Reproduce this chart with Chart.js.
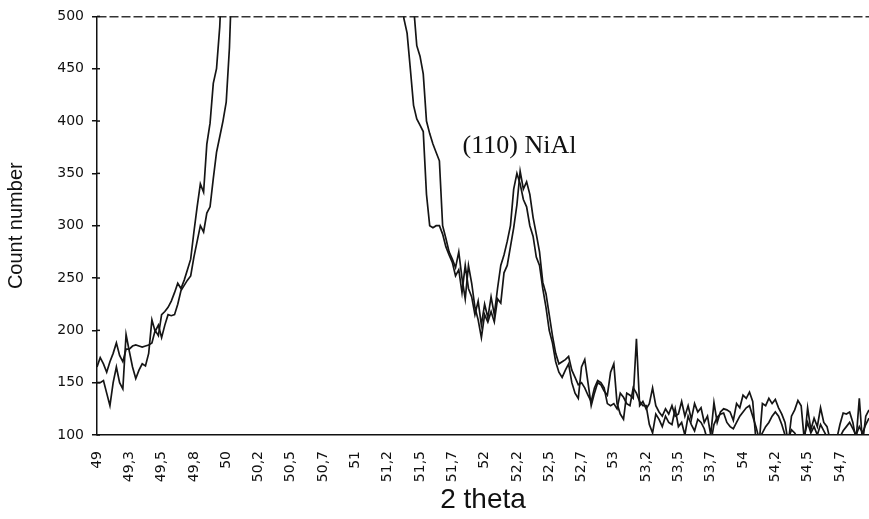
<!DOCTYPE html>
<html>
<head>
<meta charset="utf-8">
<script src="https://cdn.jsdelivr.net/npm/chart.js@4.4.1/dist/chart.umd.min.js"></script>
<style>
  html, body { margin: 0; padding: 0; background: #fff; }
  #wrap { width: 869px; height: 519px; }
</style>
</head>
<body>
<div id="wrap"><canvas id="xrdChart" width="869" height="519"></canvas></div>
<script>
// scan sampling: first angle and step (degrees 2 theta)
const thetaStart = 49;
const thetaStep = 0.025;

// x labels as printed, one every 10 steps
const tickValues = [49, 49.25, 49.5, 49.75, 50, 50.25, 50.5, 50.75, 51, 51.25, 51.5, 51.75,
  52, 52.25, 52.5, 52.75, 53, 53.25, 53.5, 53.75, 54, 54.25, 54.5, 54.75];
const tickLabels = ['49', '49,3', '49,5', '49,8', '50', '50,2', '50,5', '50,7', '51', '51,2', '51,5', '51,7',
  '52', '52,2', '52,5', '52,7', '53', '53,2', '53,5', '53,7', '54', '54,2', '54,5', '54,7'];

// counts, first scan (values above 500 are off the chart)
const countsA = [
  165, 174, 168, 160, 170, 178, 188, 176, 170, 182,
  182, 185, 186, 185, 184, 185, 186, 188, 200, 195,
  215, 218, 222, 228, 236, 245, 240, 248, 258, 268,
  294, 318, 340, 332, 378, 398, 436, 450, 490, 560,
  640, 740, 860, 990, 1130, 1280, 1440, 1600, 1760, 1910,
  2050, 2180, 2290, 2380, 2450, 2500, 2530, 2540, 2530, 2500,
  2450, 2380, 2300, 2200, 2090, 1970, 1850, 1720, 1600, 1480,
  1370, 1260, 1160, 1070, 990, 920, 860, 810, 770, 740,
  900, 880, 860, 840, 820, 800, 780, 760, 740, 720,
  700, 680, 650, 620, 580, 498, 484, 450, 415, 402,
  396, 390, 330, 300, 298, 300, 300, 292, 280, 272,
  265, 252, 258, 236, 262, 240, 232, 215, 228, 205,
  225, 212, 232, 215, 240, 262, 272, 285, 300, 335,
  350, 340, 325, 318, 300, 290, 270, 262, 240, 222,
  200, 188, 170, 160, 155, 162, 168, 150, 140, 135,
  165, 172, 150, 128, 140, 150, 148, 142, 138, 160,
  168, 130, 120, 115, 140, 138, 135, 192, 128, 132,
  125, 130, 145, 128, 122, 118, 125, 120, 128, 118,
  120, 132, 118, 128, 115, 130, 122, 126, 112, 118,
  100, 131, 112, 122, 125, 124, 122, 114, 130, 126,
  138, 135, 141, 132, 95, 92, 130, 128, 135, 130,
  134, 126, 120, 112, 92, 118, 124, 133, 128, 94,
  126, 105, 116, 108, 126, 112, 108, 95, 92, 96,
  110, 121, 120, 122, 112, 95, 135, 92, 118, 124
];

// counts, second scan
const countsB = [
  150, 150, 152, 140, 128, 150, 165, 150, 144, 196,
  180, 165, 154, 162, 168, 166, 178, 210, 199, 205,
  193, 205, 215, 214, 215, 225, 238, 243, 248, 252,
  270, 285, 300, 294, 312, 318, 345, 370, 385, 400,
  418, 470, 560, 650, 760, 880, 1010, 1150, 1300, 1450,
  1600, 1740, 1870, 1990, 2090, 2170, 2230, 2270, 2290, 2290,
  2270, 2230, 2170, 2090, 2000, 1900, 1790, 1680, 1570, 1460,
  1360, 1260, 1170, 1090, 1020, 960, 910, 870, 840, 810,
  790, 770, 750, 730, 715, 700, 690, 680, 670, 660,
  650, 640, 630, 620, 610, 600, 580, 550, 510, 472,
  462, 445, 400, 388, 378, 370, 362, 300, 288, 275,
  268, 260, 275, 250, 230, 262, 245, 222, 210, 193,
  215, 208, 218, 208, 230, 226, 255, 262, 280, 298,
  320, 352, 335, 342, 330, 308, 292, 275, 246, 235,
  215, 195, 178, 168, 170, 172, 175, 162, 155, 148,
  150, 145, 138, 132, 145, 152, 150, 145, 130, 128,
  130, 125, 140, 136, 130, 128, 145, 140, 132, 128,
  128, 110, 102, 120, 115, 108, 118, 112, 110, 125,
  108, 112, 100, 118, 110, 104, 115, 112, 106, 95,
  92, 110, 117, 120, 121, 112, 108, 106, 112, 118,
  122, 126, 128, 118, 108, 96, 102, 108, 112, 118,
  122, 118, 110, 100, 96, 105, 102, 96, 98, 100,
  112, 102, 108, 100, 110, 104, 98, 96, 100, 98,
  98, 104, 108, 112, 106, 100, 108, 102, 110, 116
];

const peakLabel = '(110) NiAl';

function toPoints(counts) {
  return counts.map((c, i) => ({ x: thetaStart + i * thetaStep, y: c }));
}

// peak label + the inner half of the y tick marks
const peakText = {
  id: 'peakText',
  afterDraw(chart) {
    const { ctx, chartArea: { left }, scales: { x, y } } = chart;
    ctx.save();
    ctx.strokeStyle = '#111';
    ctx.lineWidth = 1.5;
    y.ticks.forEach(t => {
      const py = y.getPixelForValue(t.value);
      ctx.beginPath();
      ctx.moveTo(left, py);
      ctx.lineTo(left + 3, py);
      ctx.stroke();
    });
    ctx.font = '26px "Liberation Serif", "Times New Roman", serif';
    ctx.fillStyle = '#111';
    ctx.textAlign = 'center';
    ctx.fillText(peakLabel, x.getPixelForValue(52.27), y.getPixelForValue(369));
    ctx.restore();
  }
};

const tickFont = { family: '"DejaVu Sans", sans-serif', size: 14 };

new Chart(document.getElementById('xrdChart'), {
  type: 'line',
  data: {
    datasets: [
      { data: toPoints(countsA), borderColor: '#151515', borderWidth: 1.7, pointRadius: 0, tension: 0 },
      { data: toPoints(countsB), borderColor: '#151515', borderWidth: 1.7, pointRadius: 0, tension: 0 }
    ]
  },
  options: {
    responsive: false,
    animation: false,
    layout: { padding: { top: 12, right: 0, left: 0, bottom: 0 } },
    plugins: { legend: { display: false }, tooltip: { enabled: false } },
    scales: {
      x: {
        type: 'linear',
        min: thetaStart,
        max: 54.975,
        afterBuildTicks: s => { s.ticks = tickValues.map(v => ({ value: v })); },
        afterFit: s => { s.height = 84; },
        ticks: {
          autoSkip: false,
          minRotation: 90,
          maxRotation: 90,
          padding: 8,
          color: '#111',
          font: tickFont,
          callback: (v, i) => tickLabels[i]
        },
        grid: { display: false },
        border: { display: true, color: '#111', width: 1.5 },
        title: {
          display: true,
          text: '2 theta',
          color: '#111',
          font: { family: '"Liberation Sans", Arial, sans-serif', size: 28 },
          padding: { top: 2, bottom: 2 }
        }
      },
      y: {
        min: 100,
        max: 500,
        afterFit: s => { s.width = 97; },
        ticks: { stepSize: 50, padding: 8, color: '#111', font: tickFont },
        grid: {
          color: c => (c.tick && c.tick.value === 500 ? '#333' : 'rgba(0,0,0,0)'),
          lineWidth: 1.5,
          tickColor: '#111',
          tickLength: 5
        },
        border: { color: '#111', width: 1.5, dash: [9, 3] },
        title: {
          display: true,
          text: 'Count number',
          color: '#111',
          font: { family: '"Liberation Sans", Arial, sans-serif', size: 20 },
          padding: { top: 4, bottom: 0 }
        }
      }
    }
  },
  plugins: [peakText]
});
</script>
</body>
</html>
